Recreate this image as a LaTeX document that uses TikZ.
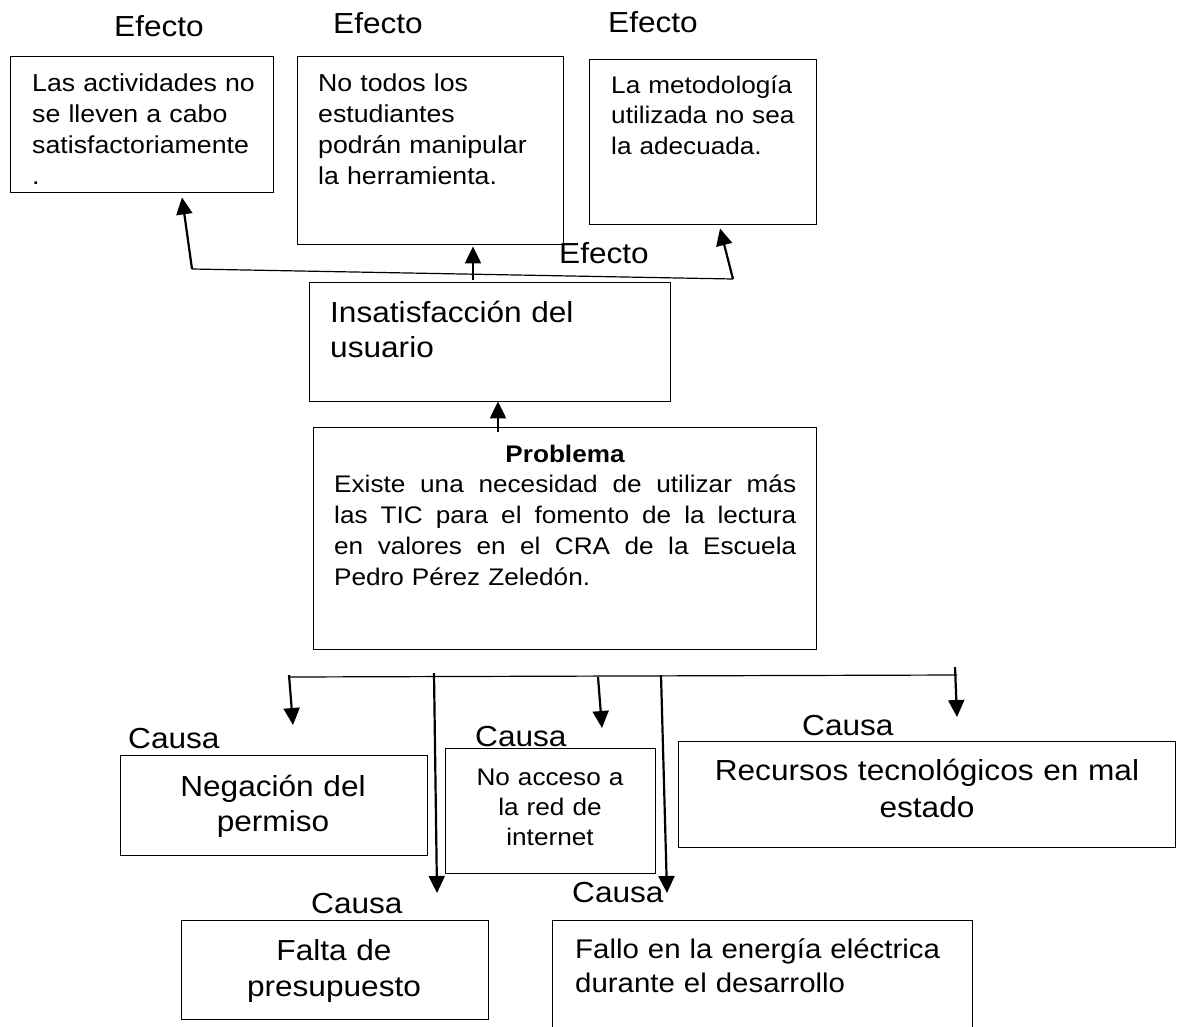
\documentclass[tikz,border=0pt]{standalone}
\usepackage{fontspec}
\setmainfont{Liberation Sans}[FakeStretch=1.09]
\usetikzlibrary{arrows.meta,calc}
\newcommand{\jline}[1]{\leavevmode\hbox to 462pt{#1}}
\begin{document}
\begin{tikzpicture}[x=1pt,y=-1pt,
  box/.style={draw, line width=1.4pt, inner sep=0pt, anchor=north west},
  txt/.style={inner sep=0pt, anchor=base west, align=left},
  ctxt/.style={inner sep=0pt, anchor=base, align=center},
  lbl/.style={inner sep=0pt, anchor=base west, font=\fontsize{29}{35}\selectfont},
  thinline/.style={line width=1.2pt},
  arr/.style={line width=2.2pt, -{Triangle[length=17pt,width=16pt]}}
]
\useasboundingbox (0,0) rectangle (1178,1026);

% ---------- effect boxes ----------
\node[box, minimum width=263pt, minimum height=136pt] (e1) at (10,56) {};
\node[box, minimum width=266pt, minimum height=188pt] (e2) at (297,56) {};
\node[box, minimum width=227pt, minimum height=165pt] (e3) at (589,59) {};

\node[lbl] (ef1) at (114,36) {Efecto};
\node[lbl] (ef2) at (333,33) {Efecto};
\node[lbl] (ef3) at (608,32) {Efecto};
\node[lbl] (ef4) at (559,263) {Efecto};

\node[txt, text width=245pt, font=\fontsize{24.5}{31}\selectfont] (te1) at (32,91)
  {Las actividades no\\se lleven a cabo\\satisfactoriamente\\.};
\node[txt, text width=245pt, font=\fontsize{24.5}{31}\selectfont] (te2) at (318,91)
  {No todos los\\estudiantes\\podrán manipular\\la herramienta.};
\node[txt, text width=200pt, font=\fontsize{24}{30.5}\selectfont] (te3) at (611,93)
  {La metodología\\utilizada no sea\\la adecuada.};

% ---------- central boxes ----------
\node[box, minimum width=361pt, minimum height=119pt] (insat) at (309,282) {};
\node[txt, text width=330pt, font=\fontsize{29}{35}\selectfont] (tinsat) at (330,322)
  {Insatisfacción del\\usuario};

\node[box, minimum width=503pt, minimum height=222pt] (prob) at (313,427) {};
\node[ctxt, text width=470pt, font=\fontsize{24}{31}\selectfont\bfseries] (tprobt) at (565,462) {Problema};
\node[txt, text width=462pt, font=\fontsize{24}{31}\selectfont] (tprob) at (334,492)
  {\jline{Existe\hfill una\hfill necesidad\hfill de\hfill utilizar\hfill más}\\
   \jline{las\hfill TIC\hfill para\hfill el\hfill fomento\hfill de\hfill la\hfill lectura}\\
   \jline{en\hfill valores\hfill en\hfill el\hfill CRA\hfill de\hfill la\hfill Escuela}\\
   Pedro Pérez Zeledón.};

% ---------- top connectors ----------
\coordinate (tl) at (192,269);
\coordinate (tr) at (733,279);
\draw[thinline] (tl) -- (tr);
\draw[arr] (tl) -- ($(e1.south west)+(172,4)$);
\draw[arr] ($(insat.north west)+(164,-2)$) -- ($(e2.south west)+(176,1)$);
\draw[arr] (tr) -- ($(e3.south west)+(131,3)$);
\draw[arr] ($(prob.north west)+(185,5)$) -- ($(insat.south west)+(189,-1)$);

% ---------- cause boxes ----------
\node[box, minimum width=307pt, minimum height=100pt] (neg) at (120,755) {};
\node[box, minimum width=210pt, minimum height=125pt] (noacc) at (445,748) {};
\node[box, minimum width=497pt, minimum height=106pt] (rec) at (678,741) {};
\node[box, minimum width=307pt, minimum height=99pt] (falta) at (181,920) {};
\node[box, minimum width=420pt, minimum height=130pt] (fallo) at (552,920) {};

\node[lbl] (ca1) at (128,748) {Causa};
\node[lbl] (ca2) at (475,746) {Causa};
\node[lbl] (ca3) at (802,735) {Causa};
\node[lbl] (ca4) at (311,913) {Causa};
\node[lbl] (ca5) at (572,902) {Causa};

\node[ctxt, text width=300pt, font=\fontsize{29}{35}\selectfont] (tneg) at (273,796)
  {Negación del\\permiso};
\node[ctxt, text width=205pt, font=\fontsize{24}{30}\selectfont] (tnoacc) at (550,785)
  {No acceso a\\la red de\\internet};
\node[ctxt, text width=490pt, font=\fontsize{29}{37.5}\selectfont] (trec) at (927,780)
  {Recursos tecnológicos en mal\\estado};
\node[ctxt, text width=300pt, font=\fontsize{29}{36}\selectfont] (tfalta) at (334,960)
  {Falta de\\presupuesto};
\node[txt, text width=400pt, font=\fontsize{27}{34}\selectfont] (tfallo) at (575,958)
  {Fallo en la energía eléctrica\\durante el desarrollo};

% ---------- bottom connectors ----------
\coordinate (bl) at (289,677);
\coordinate (br) at (957,675);
\draw[thinline] (bl) -- (br);
\coordinate (a2s) at (434,673);
\coordinate (a3s) at (598,677);
\coordinate (a4s) at (661,675);
\coordinate (a5s) at (955,667);
\coordinate (a1e) at (293,725);
\coordinate (a2e) at (437,893);
\coordinate (a3e) at (602,728);
\coordinate (a4e) at (667,893);
\coordinate (a5e) at (957,717);
\draw[arr] ($(bl)+(0,-2)$) -- (a1e);
\draw[arr] (a2s) -- (a2e);
\draw[arr] (a3s) -- (a3e);
\draw[arr] (a4s) -- (a4e);
\draw[arr] (a5s) -- (a5e);
\end{tikzpicture}
\end{document}
